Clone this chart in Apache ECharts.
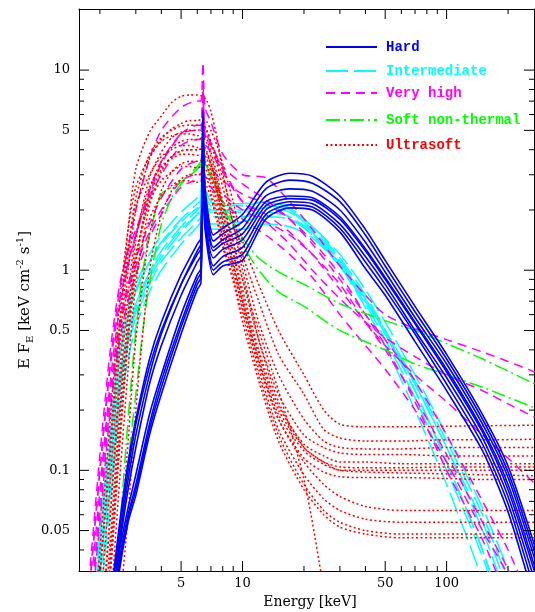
<!DOCTYPE html>
<html><head><meta charset="utf-8">
<script src="https://cdn.jsdelivr.net/npm/echarts@6/dist/echarts.min.js"></script>
<style>html,body{margin:0;padding:0;background:#fff}#c{width:535px;height:612px}</style>
</head><body><div id="c"></div>
<script>
// ---------------- tick labels ----------------
const xMajorTicks = [5, 10, 50, 100];
const xMinorTicks = [2, 3, 4, 6, 7, 8, 9, 20, 30, 40, 60, 70, 80, 90, 200];
const yMajorTicks = [0.05, 0.1, 0.5, 1, 5, 10];
const yMinorTicks = [0.04, 0.06, 0.07, 0.08, 0.09, 0.2, 0.3, 0.4, 0.6, 0.7, 0.8, 0.9, 2, 3, 4, 6, 7, 8, 9];

// ---------------- categories ----------------
const families = ['Hard', 'Intermediate', 'Very high', 'Soft non-thermal', 'Ultrasoft'];

// ---------------- Hard (blue, solid) ----------------
const hardE = [2.25, 2.5, 2.75, 3, 3.5, 4, 5, 6, 6.25, 6.4, 6.55, 7.2, 8, 10, 13, 17, 22, 30, 40, 50, 70, 100, 150, 200, 270];
const hardF = [
  [0.022, 0.055, 0.11, 0.18, 0.36, 0.55, 0.95, 1.35, 1.45, 6.3, 2.6, 1.5, 1.62, 1.9, 2.75, 3.05, 2.95, 2.35, 1.6, 1.12, 0.66, 0.38, 0.19, 0.105, 0.042],
  [0.018, 0.045, 0.09, 0.15, 0.3, 0.48, 0.85, 1.25, 1.35, 5.5, 2.4, 1.4, 1.52, 1.75, 2.55, 2.82, 2.72, 2.2, 1.5, 1.05, 0.62, 0.36, 0.18, 0.098, 0.039],
  [0.02, 0.05, 0.1, 0.17, 0.33, 0.5, 0.85, 1.2, 1.28, 4.5, 2.2, 1.3, 1.42, 1.62, 2.35, 2.55, 2.48, 2.0, 1.38, 0.98, 0.58, 0.34, 0.17, 0.092, 0.036],
  [0.017, 0.042, 0.08, 0.13, 0.27, 0.42, 0.75, 1.1, 1.18, 4.0, 2.1, 1.25, 1.36, 1.52, 2.2, 2.35, 2.3, 1.85, 1.28, 0.92, 0.55, 0.32, 0.16, 0.085, 0.033],
  [0.016, 0.04, 0.065, 0.095, 0.19, 0.3, 0.6, 0.95, 1.02, 3.6, 1.9, 1.15, 1.27, 1.42, 2.1, 2.28, 2.24, 1.8, 1.25, 0.9, 0.54, 0.31, 0.155, 0.08, 0.031],
  [0.015, 0.036, 0.06, 0.085, 0.17, 0.28, 0.55, 0.9, 0.97, 3.2, 1.8, 1.05, 1.17, 1.3, 2.0, 2.2, 2.15, 1.7, 1.17, 0.85, 0.5, 0.29, 0.145, 0.074, 0.028],
  [0.014, 0.034, 0.058, 0.08, 0.16, 0.26, 0.52, 0.85, 0.92, 3.0, 1.7, 1.0, 1.1, 1.2, 1.9, 2.12, 2.07, 1.62, 1.1, 0.8, 0.48, 0.27, 0.135, 0.068, 0.025],
  [0.013, 0.032, 0.055, 0.075, 0.15, 0.24, 0.48, 0.8, 0.86, 2.8, 1.6, 0.95, 1.05, 1.12, 1.8, 2.05, 2.0, 1.55, 1.02, 0.75, 0.44, 0.25, 0.125, 0.062, 0.022]
];

// ---------------- Intermediate (cyan, long dash) ----------------
const interE = [1.8, 2, 2.25, 2.5, 2.75, 3, 3.5, 4, 5, 6, 6.25, 6.4, 6.55, 7, 8, 10, 13, 17, 22, 30, 40, 50, 70, 100, 150, 200];
const interF = [
  [0.01, 0.05, 0.16, 0.42, 0.65, 0.85, 1.2, 1.5, 1.95, 2.3, 2.4, 5.5, 2.7, 2.2, 2.15, 2.15, 2.2, 2.0, 1.55, 1.05, 0.65, 0.42, 0.2, 0.085, 0.028, 0.01],
  [0.008, 0.04, 0.13, 0.36, 0.58, 0.78, 1.1, 1.38, 1.8, 2.15, 2.25, 5.0, 2.5, 2.1, 2.1, 2.1, 2.2, 2.05, 1.65, 1.15, 0.75, 0.5, 0.25, 0.11, 0.04, 0.016],
  [0.007, 0.035, 0.11, 0.3, 0.5, 0.68, 0.98, 1.25, 1.65, 2.0, 2.1, 4.6, 2.35, 1.95, 1.95, 1.95, 2.05, 1.95, 1.6, 1.12, 0.72, 0.48, 0.25, 0.11, 0.04, 0.016],
  [0.006, 0.03, 0.09, 0.26, 0.44, 0.62, 0.9, 1.15, 1.55, 1.9, 2.0, 4.3, 2.2, 1.85, 1.85, 1.85, 1.95, 1.85, 1.5, 1.05, 0.68, 0.45, 0.23, 0.1, 0.037, 0.015],
  [0.009, 0.045, 0.14, 0.38, 0.6, 0.8, 1.1, 1.35, 1.75, 2.05, 2.15, 4.0, 2.35, 2.0, 2.0, 2.0, 2.1, 2.0, 1.65, 1.2, 0.8, 0.55, 0.3, 0.15, 0.065, 0.032],
  [0.006, 0.03, 0.1, 0.28, 0.47, 0.65, 0.95, 1.2, 1.6, 1.9, 2.0, 3.6, 2.2, 1.85, 1.85, 1.85, 1.95, 1.85, 1.55, 1.1, 0.72, 0.5, 0.27, 0.13, 0.05, 0.022],
  [0.005, 0.025, 0.08, 0.24, 0.42, 0.58, 0.85, 1.1, 1.45, 1.75, 1.85, 3.3, 2.05, 1.7, 1.7, 1.75, 1.85, 1.8, 1.5, 1.08, 0.72, 0.5, 0.28, 0.14, 0.06, 0.028],
  [0.004, 0.02, 0.07, 0.2, 0.36, 0.52, 0.78, 1.0, 1.35, 1.65, 1.75, 3.0, 1.95, 1.6, 1.6, 1.6, 1.7, 1.65, 1.45, 1.05, 0.7, 0.48, 0.27, 0.13, 0.055, 0.025]
];

// ---------------- Very high (magenta, dashed) ----------------
const vhighE = [1.6, 1.8, 2, 2.25, 2.5, 2.75, 3, 3.5, 4, 5, 6, 6.25, 6.4, 6.55, 7, 8, 10, 13, 17, 22, 30, 40, 50, 70, 100, 150, 200, 270];
const vhighF = [
  [0.008, 0.03, 0.1, 0.35, 0.8, 1.3, 2.0, 3.6, 5.0, 6.5, 7.0, 7.0, 10.9, 6.5, 5.5, 3.8, 3.0, 2.9, 2.2, 1.6, 1.05, 0.75, 0.6, 0.51, 0.45, 0.39, 0.35, 0.31],
  [0.006, 0.025, 0.08, 0.28, 0.65, 1.05, 1.5, 2.5, 3.5, 4.8, 5.0, 5.0, 8.5, 4.8, 4.2, 3.2, 2.2, 1.75, 1.35, 1.0, 0.72, 0.55, 0.46, 0.37, 0.3, 0.25, 0.215, 0.184],
  [0.01, 0.035, 0.12, 0.4, 0.85, 1.25, 1.6, 2.3, 3.0, 4.2, 4.5, 4.5, 7.0, 4.3, 3.9, 3.1, 2.2, 1.9, 1.55, 1.2, 0.8, 0.55, 0.42, 0.3, 0.22, 0.15, 0.115, 0.086],
  [0.005, 0.02, 0.07, 0.25, 0.55, 0.85, 1.15, 1.7, 2.3, 3.2, 3.5, 3.5, 6.0, 3.4, 3.2, 2.8, 2.4, 2.15, 1.8, 1.4, 0.95, 0.6, 0.42, 0.22, 0.1, 0.045, 0.022, 0.01],
  [0.005, 0.02, 0.06, 0.22, 0.5, 0.8, 1.05, 1.55, 2.0, 2.8, 3.0, 3.0, 5.0, 2.95, 2.8, 2.4, 2.0, 1.75, 1.5, 1.2, 0.85, 0.55, 0.4, 0.23, 0.12, 0.055, 0.032, 0.015],
  [0.008, 0.03, 0.1, 0.33, 0.7, 1.1, 1.5, 2.4, 3.4, 4.8, 5.3, 5.3, 8.0, 5.0, 4.3, 3.3, 2.7, 2.25, 1.8, 1.35, 0.9, 0.6, 0.45, 0.28, 0.15, 0.07, 0.04, 0.02],
  [0.004, 0.018, 0.055, 0.2, 0.45, 0.7, 0.95, 1.45, 1.9, 2.6, 2.8, 2.8, 4.5, 2.75, 2.6, 2.2, 1.8, 1.5, 1.2, 0.92, 0.6, 0.42, 0.32, 0.2, 0.11, 0.05, 0.03, 0.015]
];

// ---------------- Soft non-thermal (green, dash-dot) ----------------
const softE = [2.25, 2.5, 2.75, 3, 3.25, 3.5, 4, 4.5, 5, 6, 6.25, 6.4, 6.55, 7, 8, 10, 12, 15, 20, 30, 50, 70, 100, 150, 270];
const softF = [
  [0.008, 0.035, 0.11, 0.24, 0.5, 0.86, 1.7, 2.3, 2.7, 3.2, 3.4, 4.5, 3.6, 3.0, 2.2, 1.45, 1.15, 0.98, 0.85, 0.68, 0.56, 0.5, 0.43, 0.36, 0.27],
  [0.012, 0.05, 0.18, 0.5, 1.0, 1.5, 2.4, 2.6, 2.75, 3.3, 3.5, 4.2, 3.5, 2.9, 2.1, 1.35, 1.0, 0.78, 0.66, 0.5, 0.4, 0.34, 0.3, 0.26, 0.205]
];

// ---------------- Ultrasoft (red, dotted) ----------------
const usoftE = [1.8, 2, 2.25, 2.5, 2.75, 3, 3.5, 4, 4.5, 5, 5.5, 6, 6.4, 6.7, 7, 7.5, 8, 9, 10, 12, 15, 20, 25, 30, 40, 60, 100, 150, 270];
const usoftF = [
  [0.008, 0.03, 0.12, 0.5, 1.6, 3.2, 4.9, 5.9, 6.9, 7.4, 7.5, 7.5, 7.4, 7.0, 6.2, 4.6, 3.1, 1.7, 1.0, 0.45, 0.22, 0.13, 0.11, 0.1, 0.1, 0.1, 0.1, 0.1, 0.1],
  [0.004, 0.012, 0.06, 0.3, 1.0, 2.0, 3.6, 4.5, 5.1, 5.4, 5.6, 5.6, 5.7, 5.5, 5.0, 4.2, 3.4, 2.2, 1.4, 0.85, 0.5, 0.3, 0.2, 0.17, 0.165, 0.165, 0.166, 0.167, 0.168],
  [0.005, 0.02, 0.09, 0.4, 1.2, 2.3, 3.8, 4.6, 5.0, 5.25, 5.3, 5.3, 5.3, 5.0, 4.4, 3.6, 2.9, 1.9, 1.2, 0.7, 0.38, 0.24, 0.16, 0.145, 0.14, 0.14, 0.142, 0.142, 0.143],
  [0.003, 0.01, 0.04, 0.18, 0.6, 1.4, 2.9, 3.9, 4.6, 4.9, 5.0, 5.0, 5.1, 4.9, 4.3, 3.4, 2.6, 1.7, 1.1, 0.55, 0.3, 0.18, 0.14, 0.13, 0.128, 0.128, 0.13, 0.13, 0.13],
  [0.01, 0.04, 0.18, 0.7, 1.6, 2.6, 3.7, 4.4, 4.7, 4.8, 4.8, 4.7, 4.8, 4.5, 3.9, 3.0, 2.2, 1.4, 0.9, 0.45, 0.24, 0.15, 0.13, 0.122, 0.12, 0.12, 0.118, 0.118, 0.118],
  [0.002, 0.006, 0.03, 0.13, 0.45, 1.1, 2.5, 3.5, 4.1, 4.4, 4.5, 4.5, 4.6, 4.3, 3.7, 2.8, 2.0, 1.25, 0.8, 0.4, 0.21, 0.135, 0.118, 0.11, 0.11, 0.108, 0.108, 0.108, 0.108],
  [0.008, 0.03, 0.14, 0.55, 1.3, 2.1, 3.0, 3.7, 4.0, 4.2, 4.2, 4.1, 4.2, 3.9, 3.4, 2.6, 1.9, 1.2, 0.75, 0.38, 0.2, 0.13, 0.11, 0.104, 0.103, 0.103, 0.104, 0.104, 0.104],
  [0.001, 0.004, 0.02, 0.09, 0.32, 0.85, 2.1, 3.1, 3.7, 3.95, 4.0, 4.0, 4.05, 3.8, 3.3, 2.5, 1.8, 1.1, 0.7, 0.36, 0.19, 0.125, 0.107, 0.1, 0.098, 0.097, 0.096, 0.095, 0.094],
  [0.004, 0.015, 0.06, 0.25, 0.75, 1.5, 2.6, 3.3, 3.6, 3.8, 3.8, 3.75, 3.8, 3.6, 3.1, 2.4, 1.7, 1.05, 0.65, 0.34, 0.18, 0.115, 0.098, 0.093, 0.092, 0.092, 0.091, 0.09, 0.09],
  [0.001, 0.002, 0.01, 0.04, 0.14, 0.45, 1.5, 2.5, 3.1, 3.4, 3.5, 3.5, 3.55, 3.35, 2.9, 2.2, 1.6, 1.05, 0.7, 0.35, 0.18, 0.11, 0.085, 0.074, 0.066, 0.063, 0.063, 0.063, 0.063],
  [0.003, 0.01, 0.045, 0.2, 0.6, 1.2, 2.2, 2.8, 3.1, 3.3, 3.3, 3.25, 3.3, 3.1, 2.7, 2.0, 1.45, 0.98, 0.65, 0.32, 0.16, 0.095, 0.072, 0.063, 0.057, 0.055, 0.055, 0.055, 0.055],
  [0.001, 0.001, 0.005, 0.02, 0.06, 0.2, 1.0, 1.9, 2.5, 2.85, 3.0, 3.0, 3.05, 2.85, 2.45, 1.85, 1.35, 0.92, 0.6, 0.3, 0.15, 0.085, 0.063, 0.055, 0.05, 0.048, 0.048, 0.048, 0.048],
  [0.002, 0.008, 0.035, 0.15, 0.45, 0.95, 1.8, 2.35, 2.65, 2.8, 2.8, 2.75, 2.8, 2.6, 2.3, 1.75, 1.3, 0.88, 0.55, 0.28, 0.14, 0.08, 0.06, 0.052, 0.048, 0.046, 0.046, 0.046, 0.046],
  [0.002, 0.007, 0.03, 0.14, 0.5, 1.1, 2.3, 3.2, 3.7, 3.95, 4.0, 4.0, 4.05, 3.8, 3.4, 2.7, 2.1, 1.35, 0.9, 0.5, 0.25, 0.09, 0.025, 0.006, null, null, null, null, null]
];

// ---------------- chart ----------------
const W = 535, H = 612;
const GRID = { left: 79, right: 1, top: 9, bottom: 41 };
const X_MIN = 1.58, X_MAX = 268, Y_MIN = 0.0314, Y_MAX = 20.2;
const BLACK = '#000';
const TICK_FONT = { color: BLACK, fontFamily: 'DejaVu Serif', fontSize: 13 };
const MAJOR_LEN = 10, MINOR_LEN = 5;

function mainAxis(kind, position, labels) {
  const lim = kind === 'x' ? { min: X_MIN, max: X_MAX } : { min: Y_MIN, max: Y_MAX };
  const ticks = kind === 'x' ? xMajorTicks : yMajorTicks;
  return Object.assign({
    type: 'log', logBase: 10, position: position,
    axisLine: { show: true, onZero: false, lineStyle: { color: BLACK, width: 1 } },
    axisTick: { show: false },
    axisLabel: labels ? Object.assign({ show: true, customValues: ticks, margin: kind === 'x' ? 6 : 9 }, TICK_FONT) : { show: false },
    splitLine: { show: false }, minorTick: { show: false }, minorSplitLine: { show: false }
  }, lim);
}

function mkSeries(name, E, curves, color, width, dash) {
  return curves.map(F => ({
    name: name, type: 'line', xAxisIndex: 0, yAxisIndex: 0,
    symbol: 'none', showSymbol: false, silent: true, clip: true, animation: false,
    smooth: 0.25,
    lineStyle: { color: color, width: width, type: dash, cap: 'butt' },
    itemStyle: { color: color },
    data: E.map((e, i) => [e, F[i]]).filter(p => p[1] != null)
  }));
}

// tick marks (inside, all four sides): short line series running from the frame inwards
// the tick length in pixels is turned into a factor on the log scale of the axis
const decPxX = (W - GRID.left - GRID.right) / Math.log10(X_MAX / X_MIN);
const decPxY = (H - GRID.top - GRID.bottom) / Math.log10(Y_MAX / Y_MIN);
function tickSeries(values, side, len) {
  const fx = Math.pow(10, len / decPxX), fy = Math.pow(10, len / decPxY);
  return values.map(v => {
    let a, b;
    if (side === 'b') { a = [v, Y_MIN]; b = [v, Y_MIN * fy]; }
    else if (side === 't') { a = [v, Y_MAX]; b = [v, Y_MAX / fy]; }
    else if (side === 'l') { a = [X_MIN, v]; b = [X_MIN * fx, v]; }
    else { a = [X_MAX, v]; b = [X_MAX / fx, v]; }
    return {
      type: 'line', xAxisIndex: 0, yAxisIndex: 0, data: [a, b],
      symbol: 'none', showSymbol: false, silent: true, clip: false, animation: false, z: 5,
      lineStyle: { color: BLACK, width: 1, type: 'solid' }
    };
  });
}

const colors = ['#0000ff', '#00ffff', '#ff00ff', '#00ff00', '#ff0000'];
const legendTops = [40, 64, 86, 113, 138];

const series = [].concat(
  mkSeries(families[1], interE, interF, colors[1], 1.5, [22, 6]),
  mkSeries(families[2], vhighE, vhighF, colors[2], 1.5, [9, 6]),
  mkSeries(families[3], softE, softF, colors[3], 1.5, [14, 4, 2, 4]),
  mkSeries(families[4], usoftE, usoftF, colors[4], 1.5, [2, 2.5]),
  mkSeries(families[0], hardE, hardF, colors[0], 1.6, 'solid'),
  tickSeries(xMajorTicks, 'b', MAJOR_LEN), tickSeries(xMinorTicks, 'b', MINOR_LEN),
  tickSeries(xMajorTicks, 't', MAJOR_LEN), tickSeries(xMinorTicks, 't', MINOR_LEN),
  tickSeries(yMajorTicks, 'l', MAJOR_LEN), tickSeries(yMinorTicks, 'l', MINOR_LEN),
  tickSeries(yMajorTicks, 'r', MAJOR_LEN), tickSeries(yMinorTicks, 'r', MINOR_LEN)
);

const option = {
  backgroundColor: '#fff',
  animation: false,
  grid: Object.assign({ containLabel: false, outerBoundsMode: 'none' }, GRID),
  xAxis: [ mainAxis('x', 'bottom', true), mainAxis('x', 'top', false) ],
  yAxis: [ mainAxis('y', 'left', true), mainAxis('y', 'right', false) ],
  legend: families.map((name, i) => ({
    data: [{ name: name, textStyle: { color: colors[i] } }],
    left: 325, top: legendTops[i], orient: 'horizontal',
    itemWidth: 51, itemHeight: 14, padding: 0, selectedMode: false,
    itemStyle: { opacity: 0, borderWidth: 0 },
    textStyle: { fontFamily: 'Liberation Mono', fontWeight: 'bold', fontSize: 14, padding: [0, 0, 0, 4] }
  })),
  graphic: [
    { type: 'text', x: 310, y: 602, silent: true,
      style: { text: 'Energy [keV]', textAlign: 'center', textVerticalAlign: 'middle',
        font: '14px "DejaVu Serif"', fill: BLACK } },
    { type: 'text', x: 25, y: 300, rotation: Math.PI / 2, silent: true,
      style: { text: '{a|E F}{s|E}{a| [keV cm}{p|-2}{a| s}{p|-1}{a|]}', textAlign: 'center', textVerticalAlign: 'middle',
        fill: BLACK,
        rich: {
          a: { fontFamily: 'DejaVu Serif', fontSize: 15, lineHeight: 20, verticalAlign: 'middle', fill: BLACK },
          s: { fontFamily: 'DejaVu Serif', fontSize: 10, lineHeight: 20, verticalAlign: 'bottom', fill: BLACK },
          p: { fontFamily: 'DejaVu Serif', fontSize: 10, lineHeight: 20, verticalAlign: 'top', fill: BLACK }
        } } }
  ],
  series: series
};

const chart = echarts.init(document.getElementById('c'), null, { renderer: 'canvas' });
chart.setOption(option);
</script>
</body></html>
